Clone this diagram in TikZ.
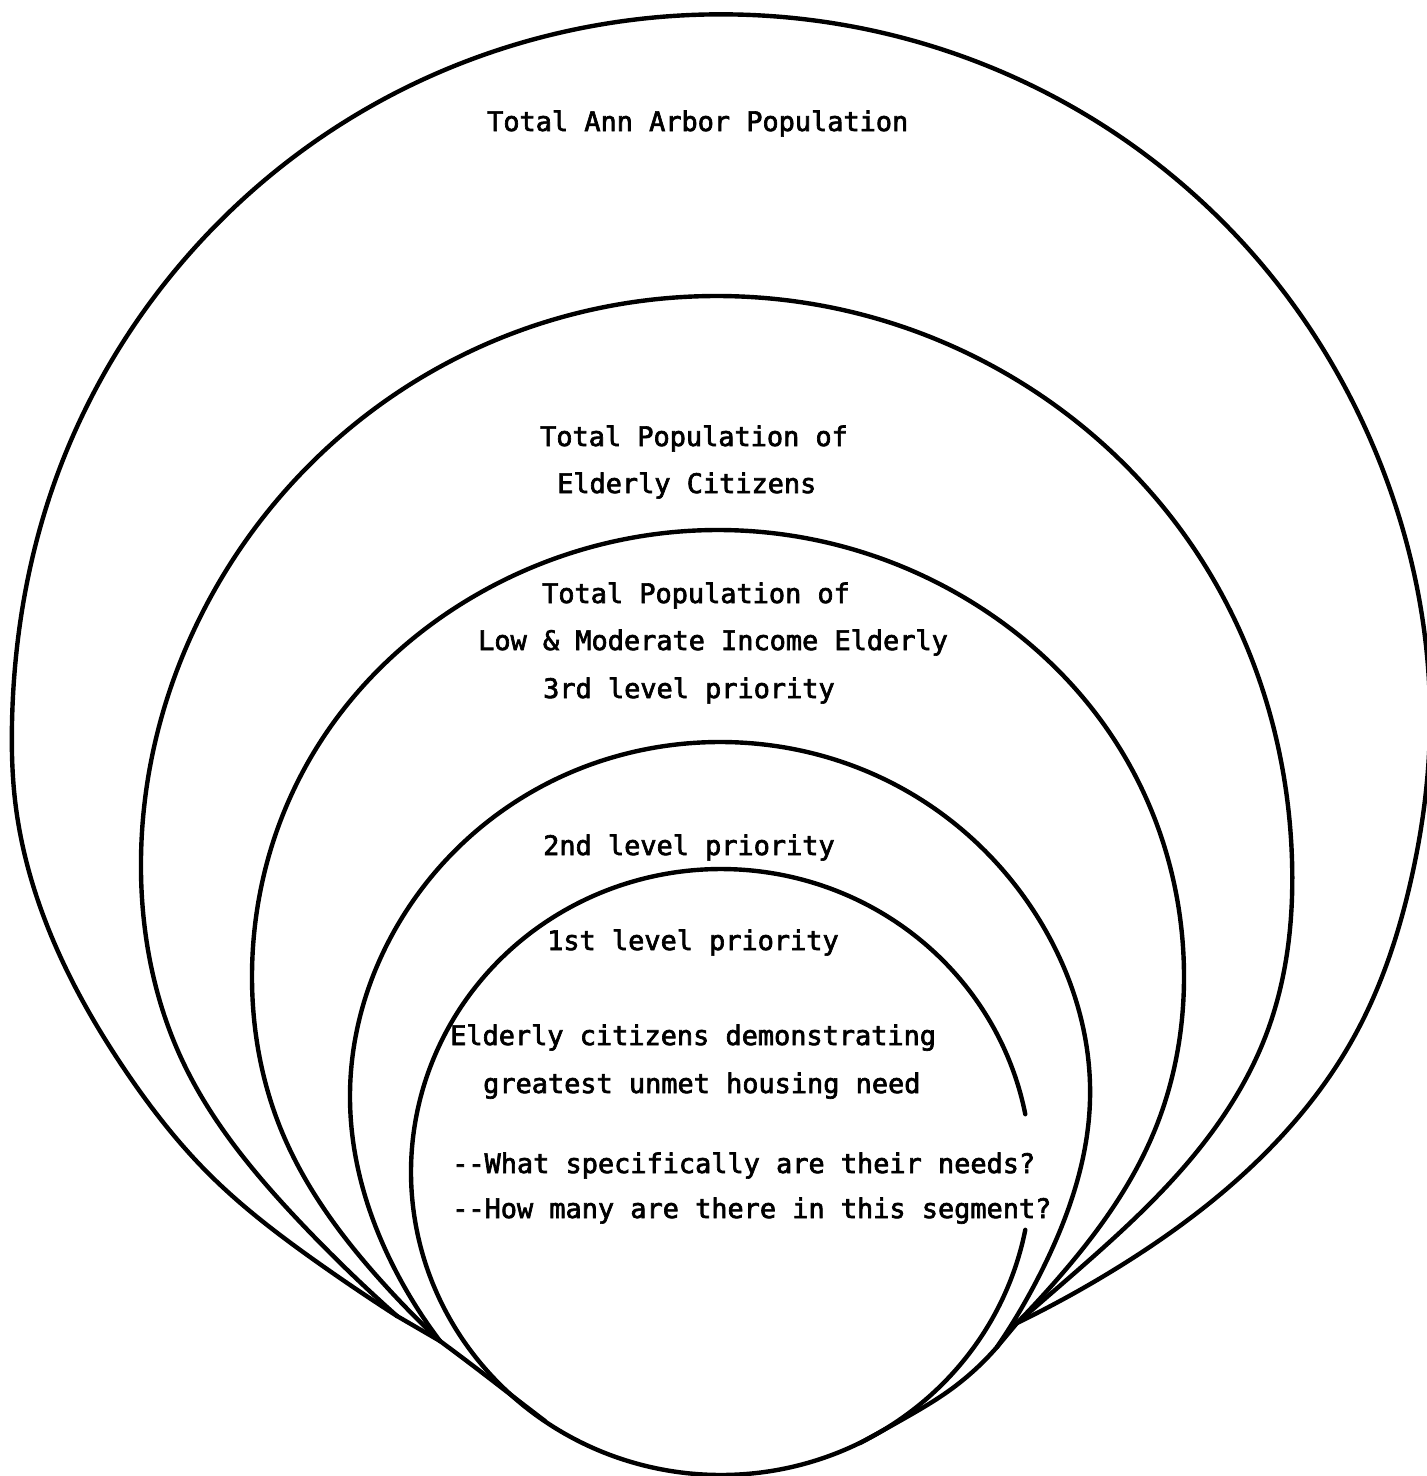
\documentclass[tikz,border=0pt]{standalone}
\usepackage{fontspec}
\usetikzlibrary{hobby}
\newfontfamily\tw[FakeBold=2.5]{DejaVu Sans Mono}
\begin{document}
\begin{tikzpicture}[x=1pt,y=-1pt,
  ringline/.style={line width=4.4pt, line cap=round, line join=round, use Hobby shortcut},
  txt/.style={font=\tw\fontsize{26.9}{32}\selectfont, anchor=base west, inner sep=0pt}]
\useasboundingbox (0,0) rectangle (1427,1476);

% points where the rings run together at the bottom
\coordinate (ml) at (397,1316);
\coordinate (jl) at (440,1341);
\coordinate (mr) at (1017,1323);
\coordinate (jr) at (997,1347);

% ring 1: total population
\draw[ringline] (ml) .. (317,1262) .. (210,1175) .. (125,1070) .. (53,940) .. (15,800) .. (12,723) .. (55,481) .. (178,267) .. (366,109) .. (598,25) .. (844,25) .. (1076,109) .. (1264,267) .. (1387,481) .. (1430,723) .. (1411,880) .. (1355,1035) .. (1250,1168) .. (1117,1268) .. (mr);

% ring 2: elderly citizens
\draw[ringline] (ml) .. (300,1222) .. (183,1062) .. (141,872) .. (218,584) .. (429,373) .. (717,296) .. (1005,373) .. (1216,584) .. (1292,860) .. (1266,1035) .. (1190,1160) .. (1055,1290) .. (mr);

% ring 3: low and moderate income elderly
\draw[ringline] (jl) .. (383,1283) .. (282,1132) .. (252,975) .. (314,752) .. (485,590) .. (718,530) .. (951,590) .. (1122,752) .. (1184,975) .. (1154,1132) .. (1054,1283) .. (mr);

% ring 4: second level
\draw[ringline] (jl) .. (400,1279) .. (350,1100) .. (400,921) .. (535,790) .. (720,742) .. (905,790) .. (1040,921) .. (1090,1100) .. (1046,1262) .. (jr);

% ring 5: first level, open on the right for the last line of text
\draw[line width=4.4pt, line cap=round] plot[domain=11:349, samples=180, smooth] ({721+310*cos(\x)}, {1172+303*sin(\x)});

% shared strokes joining the rings together and to the inner one
\draw[ringline] (ml) -- (jl);
\draw[ringline] (mr) -- (jr);
\draw[ringline] (jl) .. (476,1368) .. (515,1398) .. (545,1421);
\draw[ringline] (860,1443) .. (905,1418) .. (950,1390) .. (jr);

% texts
\node[txt] (t1) at (487,131) {Total Ann Arbor Population};
\node[txt] (t2) at (540,446) {Total Population of};
\node[txt] (t3) at (557,493) {Elderly Citizens};
\node[txt] (t4) at (542,603) {Total Population of};
\node[txt] (t5) at (478,650) {Low \& Moderate Income Elderly};
\node[txt] (t6) at (543,698) {3rd level priority};
\node[txt] (t7) at (543,855) {2nd level priority};
\node[txt] (t8) at (547,950) {1st level priority};
\node[txt] (t9) at (450,1045) {Elderly citizens demonstrating};
\node[txt] (t10) at (483,1093) {greatest unmet housing need};
\node[txt] (t11) at (452,1173) {--What specifically are their needs?};
\node[txt] (t12) at (452,1218) {--How many are there in this segment?};
\end{tikzpicture}
\end{document}
